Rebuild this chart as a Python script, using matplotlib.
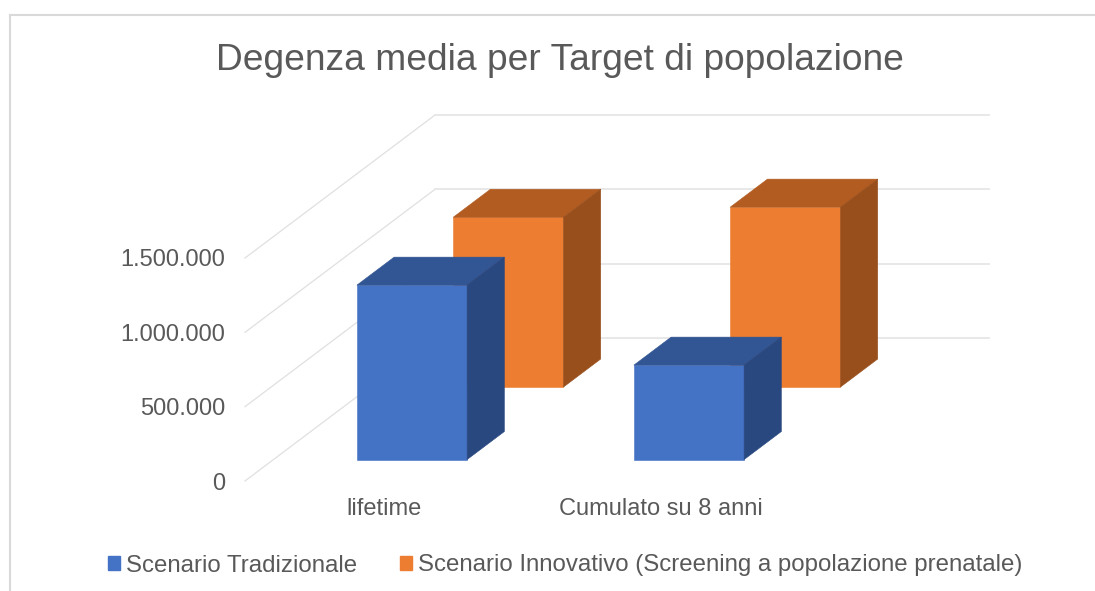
import matplotlib
matplotlib.use("Agg")
import matplotlib.pyplot as plt
from matplotlib.lines import Line2D
from matplotlib.patches import Patch, Polygon
from matplotlib.ticker import FuncFormatter

plt.rcParams['font.family'] = ['Liberation Sans', 'DejaVu Sans']

# data
title = 'Degenza media per Target di popolazione'
categories = ['lifetime', 'Cumulato su 8 anni']
series_names = ['Scenario Tradizionale', 'Scenario Innovativo (Screening a popolazione prenatale)']
tradizionale = [1173000, 635000]
innovativo = [1142000, 1210000]
y_ticks = [0, 500000, 1000000, 1500000]

# figure geometry, in pixels
W, H = 1095, 591
TEXT = '#595959'
GRID = '#e6e6e6'
PX_X, PX_TOP, PX_BOTTOM = (245, 799), 258, 481
DEPTH_X, DEPTH_Y = 190, 143  # oblique offset of the floor
BAR_W = 0.398
BAR_D = 0.196

fig = plt.figure(figsize=(W / 100, H / 100), dpi=100)
ax = fig.add_axes([PX_X[0] / W, 1 - PX_BOTTOM / H, (PX_X[1] - PX_X[0]) / W, (PX_BOTTOM - PX_TOP) / H])
ax.set_xlim(-0.5, 1.5)
ax.set_ylim(0, 1500000)
for s in ax.spines.values():
    s.set_visible(False)
ax.patch.set_visible(False)

units_x = (len(categories)) / (PX_X[1] - PX_X[0])
units_y = 1500000 / (PX_BOTTOM - PX_TOP)


def proj(x, v, d):
    # oblique projection: depth d (0 front, 1 back) shifts up and to the right
    return x + d * DEPTH_X * units_x, v + d * DEPTH_Y * units_y


def bar3d(x, v, d0, front, top, side):
    x0, x1 = x - BAR_W / 2, x + BAR_W / 2
    d1 = d0 + BAR_D
    faces = [
        ([(x0, 0, d0), (x1, 0, d0), (x1, v, d0), (x0, v, d0)], front),
        ([(x0, v, d0), (x1, v, d0), (x1, v, d1), (x0, v, d1)], top),
        ([(x1, 0, d0), (x1, 0, d1), (x1, v, d1), (x1, v, d0)], side),
    ]
    for pts, col in faces:
        ax.add_patch(Polygon([proj(*p) for p in pts], closed=True, facecolor=col,
                             edgecolor=col, linewidth=0.4, clip_on=False, zorder=3))


# walls
for t in y_ticks:
    xs, ys = zip(proj(-0.5, t, 0), proj(-0.5, t, 1))
    ax.plot(xs, ys, color='#e0e0e0', lw=0.9, clip_on=False, zorder=1)
    xs, ys = zip(proj(-0.5, t, 1), proj(1.5, t, 1))
    ax.plot(xs, ys, color=GRID, lw=1.3, clip_on=False, zorder=1)

# back row first, then front row
for i, v in enumerate(innovativo):
    bar3d(i, v, 0.657, '#ed7d31', '#b25c21', '#984f1c')
for i, v in enumerate(tradizionale):
    bar3d(i, v, 0.15, '#4472c4', '#325593', '#2a4880')

ax.set_yticks(y_ticks)
ax.yaxis.set_major_formatter(FuncFormatter(lambda v, p: f'{int(v):,}'.replace(',', '.')))
ax.set_xticks(range(len(categories)))
ax.set_xticklabels(categories)
ax.tick_params(axis='y', length=0, pad=14.5, labelsize=17, labelcolor=TEXT)
ax.tick_params(axis='x', length=0, pad=12.5, labelsize=17, labelcolor=TEXT)

fig.text(560 / W, 1 - 60 / H, title, ha='center', va='center', fontsize=26.7, color=TEXT)

handles = [Patch(color='#4472c4'), Patch(color='#ed7d31')]
fig.legend(handles, series_names, loc='center', bbox_to_anchor=(565 / W, 1 - 565.5 / H), ncol=2,
           frameon=False, fontsize=17.3, labelcolor=TEXT, handlelength=0.5, handleheight=0.5,
           handletextpad=0.25, columnspacing=1.8, borderpad=0, borderaxespad=0)

# partial chart frame
fig.add_artist(Line2D([9.5 / W, 1], [1 - 14.5 / H] * 2, color='#d9d9d9', lw=1.5))
fig.add_artist(Line2D([9.5 / W] * 2, [1 - 14.5 / H, 0], color='#d9d9d9', lw=1.5))

fig.savefig('out.png', dpi=100)
